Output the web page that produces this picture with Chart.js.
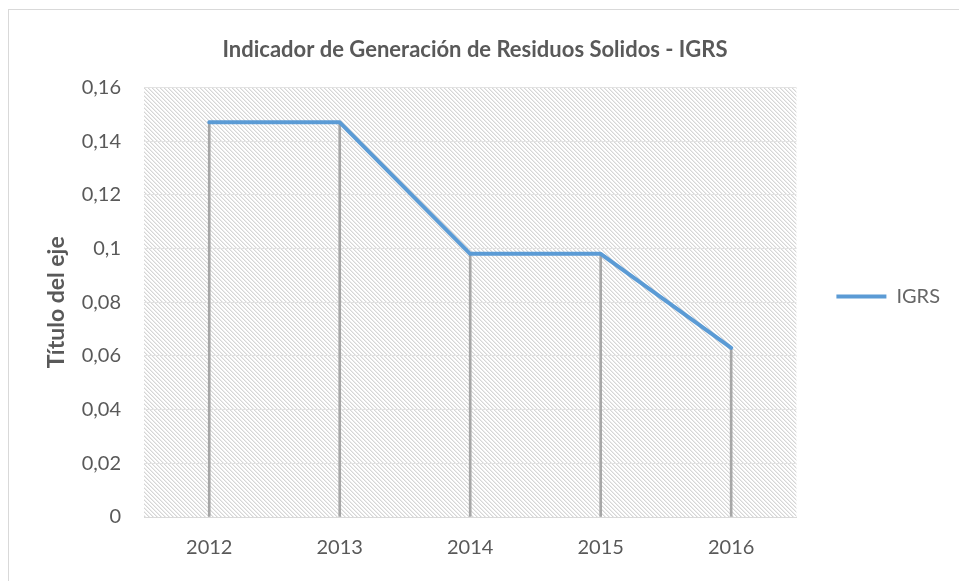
<!DOCTYPE html>
<html>
<head>
<meta charset="utf-8">
<script src="https://cdn.jsdelivr.net/npm/chart.js@4/dist/chart.umd.min.js"></script>
<style>
html,body{margin:0;padding:0;background:#fff;}
#wrap{width:959px;height:581px;position:relative;}
</style>
</head>
<body>
<div id="wrap"><canvas id="c" width="959" height="581"></canvas></div>
<script>
const categories = ['2012', '2013', '2014', '2015', '2016'];
const igrsValues = [0.147, 0.147, 0.098, 0.098, 0.063];
const seriesName = 'IGRS';
const chartTitle = 'Indicador de Generación de Residuos Solidos - IGRS';
const yAxisTitle = 'Título del eje';
const yTicks = [0, 0.02, 0.04, 0.06, 0.08, 0.1, 0.12, 0.14, 0.16];

function makePatternTile() {
  const t = document.createElement('canvas');
  t.width = 4; t.height = 4;
  const g = t.getContext('2d');
  g.fillStyle = '#ffffff';
  g.fillRect(0, 0, 4, 4);
  for (let i = 0; i < 4; i++) {
    g.fillStyle = '#d6d6d6';
    g.fillRect(i, i, 1, 1);
    g.fillStyle = '#ececec';
    g.fillRect((i + 1) % 4, i, 1, 1);
  }
  return t;
}

const bgPlugin = {
  id: 'bgPlugin',
  beforeDraw(chart) {
    const ctx = chart.ctx;
    const a = chart.chartArea;
    ctx.save();
    ctx.fillStyle = '#ffffff';
    ctx.fillRect(0, 0, chart.width, chart.height);
    ctx.strokeStyle = '#d9d9d9';
    ctx.lineWidth = 1;
    ctx.strokeRect(8.5, 9.5, 1200, 1200);
    const pat = ctx.createPattern(makePatternTile(), 'repeat');
    ctx.fillStyle = pat;
    ctx.fillRect(a.left, a.top, a.right - a.left, a.bottom - a.top);
    ctx.restore();
  }
};

const fmt = v => String(+(+v).toFixed(2)).replace('.', ',');

new Chart(document.getElementById('c'), {
  data: {
    labels: categories,
    datasets: [
      {
        type: 'line',
        label: seriesName,
        data: igrsValues,
        borderColor: '#5B9BD5',
        backgroundColor: '#5B9BD5',
        borderWidth: 4,
        tension: 0,
        pointRadius: 0,
        borderCapStyle: 'round',
        borderJoinStyle: 'round',
        order: 0
      },
      {
        type: 'bar',
        label: 'drop',
        data: igrsValues,
        backgroundColor: '#a6a6a6',
        barThickness: 2,
        order: 1
      }
    ]
  },
  options: {
    responsive: false,
    animation: false,
    devicePixelRatio: 1,
    layout: { padding: { left: 0, right: 9, top: 0, bottom: 0 } },
    plugins: {
      title: {
        display: true,
        text: chartTitle,
        color: '#595959',
        font: { family: 'Lato', size: 22, weight: 'bold' },
        padding: { top: 37, bottom: 24 }
      },
      legend: {
        display: true,
        position: 'right',
        title: { display: true, text: ' ', font: { family: 'Lato', size: 10 }, padding: 0 },
        labels: {
          padding: 40,
          boxWidth: 50,
          boxHeight: 4,
          color: '#595959',
          font: { family: 'Lato', size: 20 },
          generateLabels() {
            return [{ text: seriesName, fillStyle: '#5B9BD5', strokeStyle: 'rgba(0,0,0,0)', lineWidth: 0, datasetIndex: 0, hidden: false }];
          }
        }
      },
      tooltip: { enabled: false }
    },
    scales: {
      x: {
        offset: true,
        grid: { display: false, drawTicks: false },
        border: { display: true, color: '#d9d9d9', width: 1 },
        ticks: { color: '#595959', font: { family: 'Lato', size: 20 }, padding: 19 },
        afterFit(s) { s.height = 64; }
      },
      y: {
        min: 0,
        max: 0.16,
        grid: { color: '#e3e3e3', drawTicks: false },
        border: { display: false },
        ticks: {
          color: '#595959',
          font: { family: 'Lato', size: 20 },
          padding: 23,
          stepSize: 0.02,
          callback: (v) => fmt(v)
        },
        afterBuildTicks(s) { s.ticks = yTicks.map(v => ({ value: v })); },
        title: {
          display: true,
          text: yAxisTitle,
          color: '#595959',
          font: { family: 'Lato', size: 23, weight: 'bold' },
          padding: { top: 43, bottom: 0 }
        },
        afterFit(s) { s.width = 144; }
      }
    }
  },
  plugins: [bgPlugin]
});
</script>
</body>
</html>
